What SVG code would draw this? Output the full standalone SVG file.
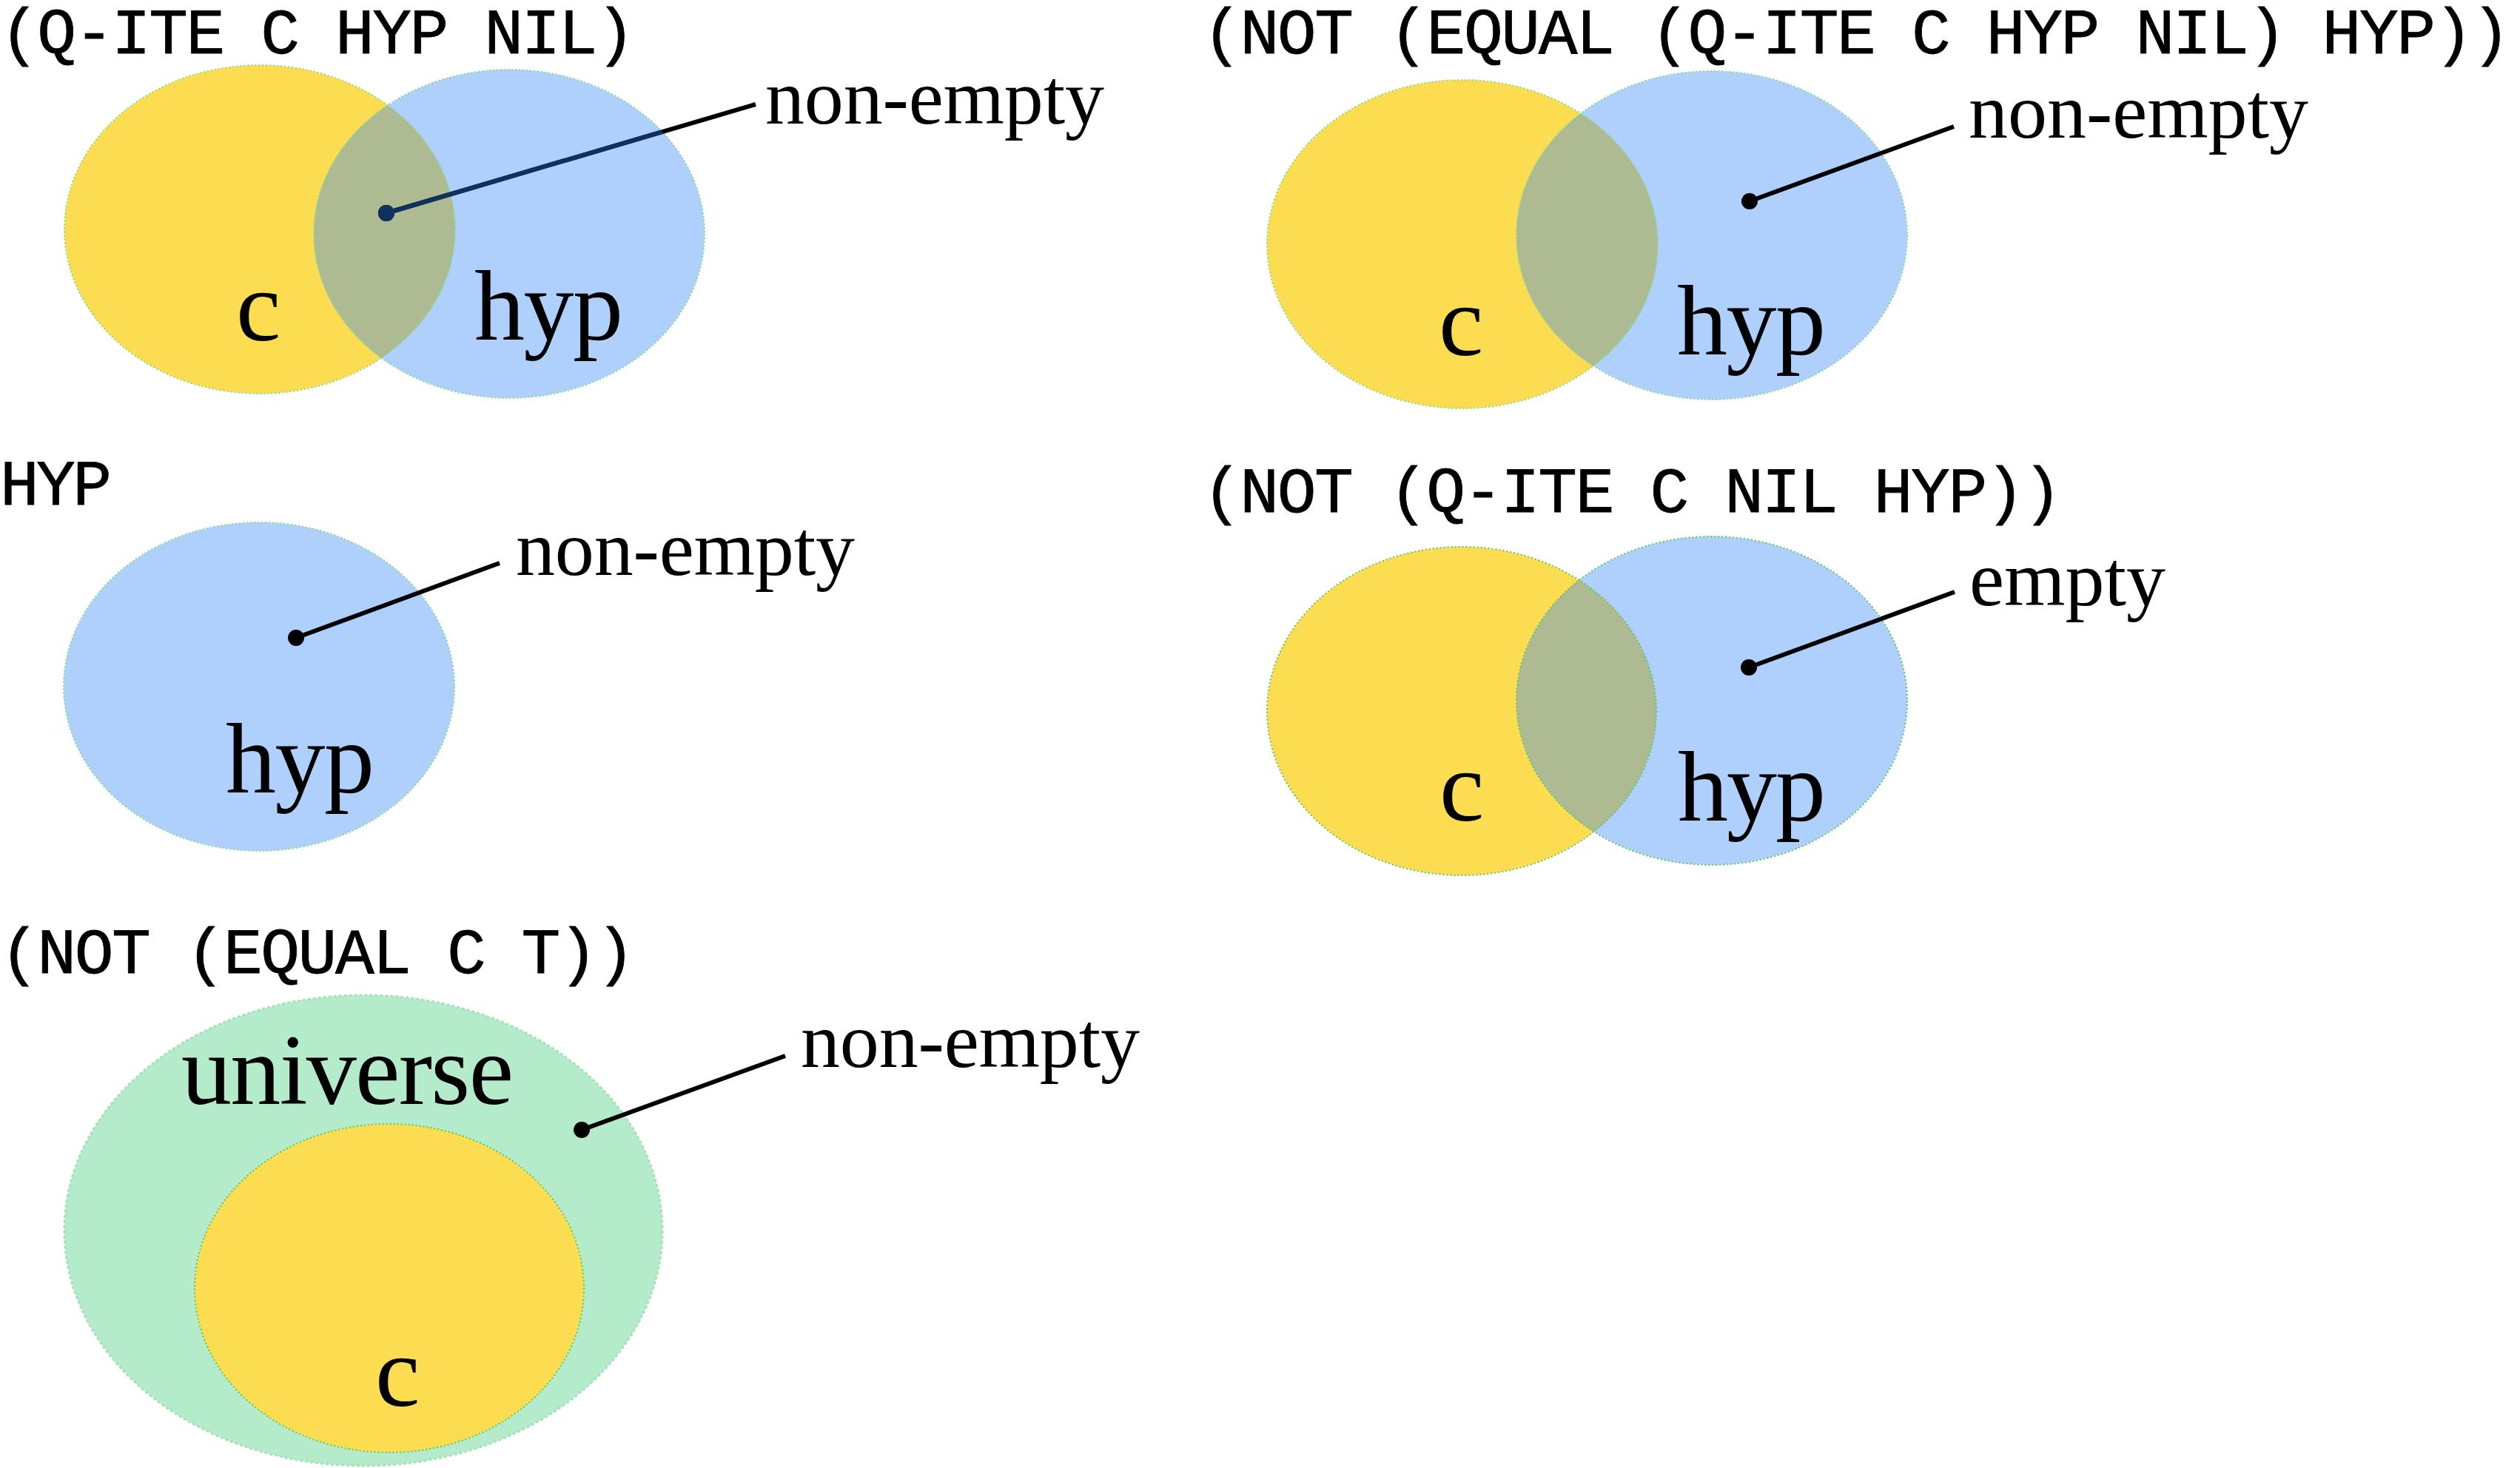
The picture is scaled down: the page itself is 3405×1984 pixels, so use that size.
<svg xmlns="http://www.w3.org/2000/svg" width="3405" height="1984" viewBox="0 0 3405 1984">
<style>
.title{font-family:"Liberation Mono","DejaVu Sans Mono",monospace;font-size:88px;fill:#000;stroke:#000;stroke-width:0.8}
.lbl{font-family:"Liberation Serif","DejaVu Serif",serif;font-size:106px;fill:#000}
.set{font-family:"Liberation Serif","DejaVu Serif",serif;font-size:136px;fill:#000}
.yel{fill:#FCDC50}
.blu{fill:#AFD0FC}
.grn{fill:#B4EBCA}
.mix{fill:#AEBA92}
.edge{fill:none;stroke:#86DC86;stroke-width:2;stroke-dasharray:2 3}
.conn{stroke:#000;stroke-width:6;fill:none}
.connN{stroke:#10305F;stroke-width:6;fill:none}
</style>
<defs>
<clipPath id="clipY1"><ellipse cx="351" cy="310" rx="264" ry="222"/></clipPath>
<clipPath id="clipB1"><ellipse cx="688" cy="316" rx="264" ry="222"/></clipPath>
<clipPath id="clipY2"><ellipse cx="1976" cy="330" rx="264" ry="222"/></clipPath>
<clipPath id="clipY4"><ellipse cx="1975" cy="961" rx="263" ry="222"/></clipPath>
</defs>

<g id="panel1">
<text class="title" x="0" y="72" textLength="858">(Q-ITE C HYP NIL)</text>
<ellipse class="yel" cx="351" cy="310" rx="264" ry="222"/>
<ellipse class="blu" cx="688" cy="316" rx="264" ry="222"/>
<ellipse class="mix" cx="688" cy="316" rx="264" ry="222" clip-path="url(#clipY1)"/>
<ellipse class="edge" cx="351" cy="310" rx="264" ry="222"/>
<ellipse class="edge" cx="688" cy="316" rx="264" ry="222"/>
<text class="set" x="319" y="460" textLength="51">c</text>
<text class="set" x="641" y="459" textLength="201">hyp</text>
<text class="lbl" x="1034" y="167" textLength="458">non-empty</text>
</g>

<g id="panel2">
<text class="title" x="1625" y="72" textLength="1767">(NOT (EQUAL (Q-ITE C HYP NIL) HYP))</text>
<ellipse class="yel" cx="1976" cy="330" rx="264" ry="222"/>
<ellipse class="blu" cx="2313" cy="318" rx="264" ry="222"/>
<ellipse class="mix" cx="2313" cy="318" rx="264" ry="222" clip-path="url(#clipY2)"/>
<ellipse class="edge" cx="1976" cy="330" rx="264" ry="222"/>
<ellipse class="edge" cx="2313" cy="318" rx="264" ry="222"/>
<text class="set" x="1944" y="480" textLength="51">c</text>
<text class="set" x="2266" y="479" textLength="201">hyp</text>
<text class="lbl" x="2660" y="186" textLength="459">non-empty</text>
</g>

<g id="panel3">
<text class="title" x="0" y="682" textLength="151">HYP</text>
<ellipse class="blu" cx="350" cy="928" rx="264" ry="222"/>
<ellipse class="edge" cx="350" cy="928" rx="264" ry="222"/>
<text class="set" x="305" y="1071" textLength="201">hyp</text>
<text class="lbl" x="697" y="777" textLength="458">non-empty</text>
</g>

<g id="panel4">
<text class="title" x="1625" y="692" textLength="1161">(NOT (Q-ITE C NIL HYP))</text>
<ellipse class="yel" cx="1975" cy="961" rx="263" ry="222"/>
<ellipse class="blu" cx="2313" cy="947" rx="264" ry="222"/>
<ellipse class="mix" cx="2313" cy="947" rx="264" ry="222" clip-path="url(#clipY4)"/>
<ellipse class="edge" cx="1975" cy="961" rx="263" ry="222" style="stroke:#5CC85C"/>
<ellipse class="edge" cx="2313" cy="947" rx="264" ry="222" style="stroke:#5CC85C"/>
<text class="set" x="1945" y="1109" textLength="50">c</text>
<text class="set" x="2267" y="1109" textLength="200">hyp</text>
<text class="lbl" x="2661" y="818" textLength="265">empty</text>
</g>

<g id="panel5">
<text class="title" x="0" y="1315" textLength="858">(NOT (EQUAL C T))</text>
<ellipse class="grn" cx="491" cy="1663" rx="404" ry="318"/>
<ellipse class="edge" cx="491" cy="1663" rx="404" ry="318" style="stroke:#A8E0B8;stroke-width:3;stroke-dasharray:4 3"/>
<ellipse class="yel" cx="526" cy="1741" rx="263" ry="222"/>
<ellipse class="edge" cx="526" cy="1741" rx="263" ry="222" style="stroke:#5CC85C"/>
<text class="set" x="245" y="1492" textLength="449">universe</text>
<text class="set" x="507" y="1900" textLength="51">c</text>
<text class="lbl" x="1082" y="1442" textLength="458">non-empty</text>
</g>

<g id="connectors">
<line class="conn" x1="522" y1="288" x2="1021" y2="141"/>
<circle cx="522" cy="288" r="11" fill="#000"/>
<g clip-path="url(#clipB1)">
<line class="connN" x1="522" y1="288" x2="1021" y2="141"/>
<circle cx="522" cy="288" r="11" fill="#10305F"/>
</g>
<line class="conn" x1="2364" y1="272" x2="2640" y2="171"/>
<circle cx="2364" cy="272" r="11" fill="#000"/>
<line class="conn" x1="400" y1="862" x2="675" y2="761"/>
<circle cx="400" cy="862" r="11" fill="#000"/>
<line class="conn" x1="2363" y1="902" x2="2641" y2="800"/>
<circle cx="2363" cy="902" r="11" fill="#000"/>
<line class="conn" x1="786" y1="1527" x2="1061" y2="1427"/>
<circle cx="786" cy="1527" r="11" fill="#000"/>
</g>
</svg>
